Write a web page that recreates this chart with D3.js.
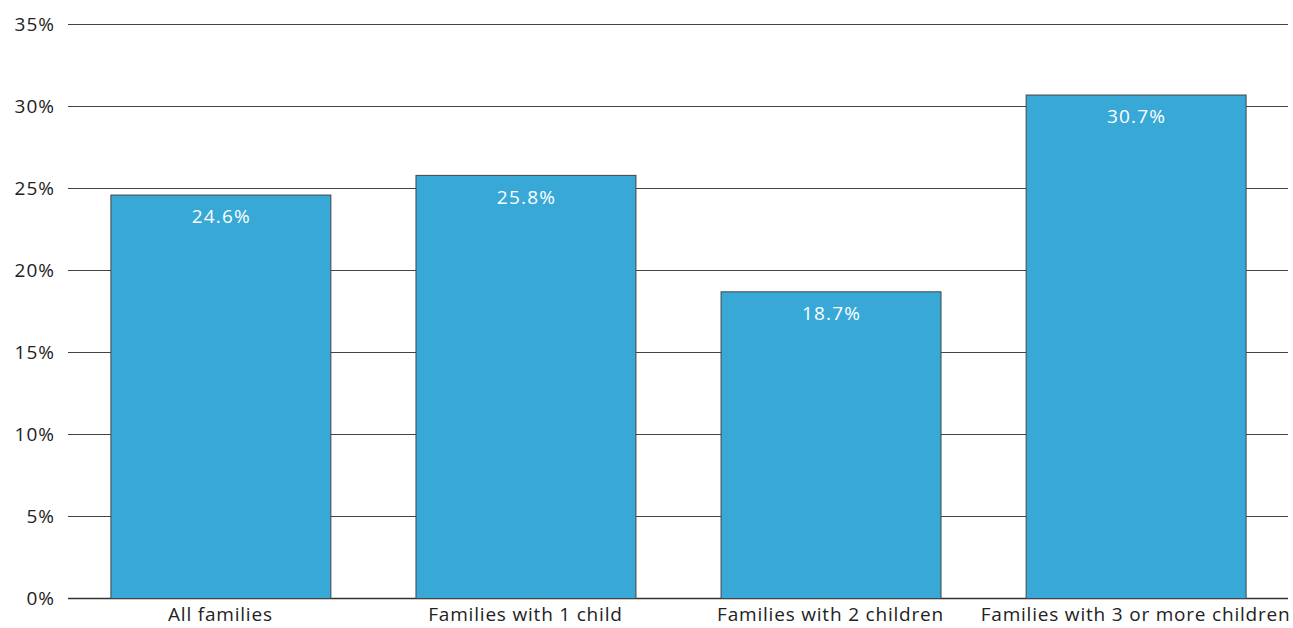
<!DOCTYPE html>
<html><head><meta charset="utf-8">
<script src="https://cdn.jsdelivr.net/npm/d3@7"></script>
<style>body{margin:0;background:#fff}svg{display:block}text{font-family:"Open Sans","Noto Sans",sans-serif}</style>
</head><body>
<script>
const categories = ["All families","Families with 1 child","Families with 2 children","Families with 3 or more children"];
const values = [24.6, 25.8, 18.7, 30.7];
const yTicks = [0,5,10,15,20,25,30,35];

const W=1293,H=628, m={l:68,r:5,t:24,b:30};
const svg=d3.select("body").append("svg").attr("width",W).attr("height",H);
const x=d3.scaleBand().domain(categories).range([m.l,W-m.r]).paddingInner(0.279).paddingOuter(0.139);
const y=d3.scaleLinear().domain([0,35]).range([H-m.b,m.t]);

svg.append("g").selectAll("line").data(yTicks).join("line")
 .attr("x1",m.l).attr("x2",1288).attr("y1",d=>y(d)+0.5).attr("y2",d=>y(d)+0.5)
 .attr("stroke",d=>d===0?"#333":"#444").attr("stroke-width",d=>d===0?1.5:1);
svg.append("g").selectAll("text").data(yTicks).join("text")
 .attr("x",55).attr("y",d=>y(d)).attr("dy","0.35em").attr("text-anchor","end")
 .attr("font-size",19).attr("letter-spacing",1).attr("fill","#222").text(d=>d+"%");

svg.append("g").selectAll("rect").data(values).join("rect")
 .attr("x",(d,i)=>x(categories[i])+0.5).attr("width",x.bandwidth())
 .attr("y",d=>y(d)+0.5).attr("height",d=>y(0)-y(d))
 .attr("fill","#38a8d6").attr("stroke","#444").attr("stroke-width",1);
svg.append("g").selectAll("text").data(values).join("text")
 .attr("x",(d,i)=>x(categories[i])+x.bandwidth()/2+1).attr("y",d=>y(d)+22)
 .attr("dy","0.35em").attr("text-anchor","middle").attr("font-size",19).attr("letter-spacing",1.2).attr("fill","#fff")
 .text(d=>d.toFixed(1)+"%");
svg.append("g").selectAll("text").data(categories).join("text")
 .attr("x",d=>x(d)+x.bandwidth()/2).attr("y",621)
 .attr("text-anchor","middle").attr("font-size",19).attr("letter-spacing",0.8).attr("fill","#222").text(d=>d);
</script>
</body></html>
